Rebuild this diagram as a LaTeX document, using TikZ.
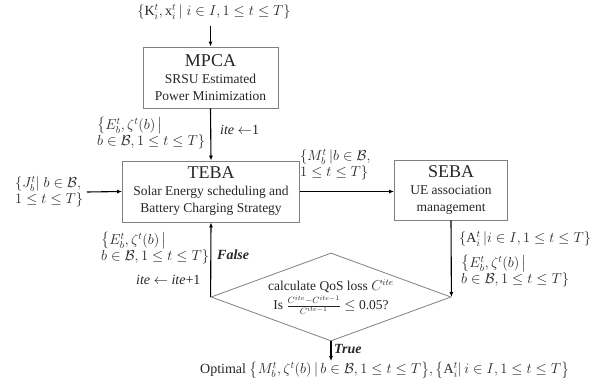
\documentclass[tikz,border=0pt]{standalone}
\usepackage{amsmath, amssymb}
\usepackage{fontspec}
\setmainfont{Liberation Serif}
\usepackage{tikz}
\usetikzlibrary{shapes.geometric}
\usetikzlibrary{arrows.meta}
\newcommand{\boxttl}[1]{{\fontsize{18}{20}\selectfont #1}}
\tikzset{blk/.style={draw=black!50,line width=0.8pt,align=center,inner sep=0pt,
           text=black!85,font=\fontsize{13.5}{17}\selectfont},
         dia/.style={diamond,draw=black!50,line width=0.8pt,align=center,inner sep=0pt,
           aspect=2.73,minimum width=240pt,minimum height=88pt,
           text=black!85,font=\fontsize{13.5}{19}\selectfont},
         arr/.style={-{Latex[length=5pt,width=4pt]},line width=1.1pt},
         lab/.style={align=left,inner sep=0pt,text=black!85,font=\fontsize{14}{16}\selectfont},
         flag/.style={inner sep=0pt,text=black!85,font=\fontsize{14}{16}\selectfont\bfseries\itshape}
         }

\begin{document}
\begin{tikzpicture}[x=1pt,y=-1pt]
        \useasboundingbox (0,0) rectangle (593,387);
        \node[lab] (in1) at (214,12) {$\{\mathrm{K}_i^t, \mathrm{x}_i^t\,|\; i \in I, 1 \le t \le T\}$};
        \node[blk, minimum width=135pt, minimum height=61pt] (mpca) at (210.5,77.5)
            {\boxttl{MPCA}\\ SRSU Estimated\\ Power Minimization};
        \node[blk, minimum width=177pt, minimum height=61pt] (teba) at (211,191.5)
            {\boxttl{TEBA}\\ Solar Energy scheduling and\\ Battery Charging Strategy};
        \node[blk, minimum width=113pt, minimum height=60pt] (seba) at (451,190)
            {\boxttl{SEBA}\\ UE association\\ management};
        \node[dia] (dec) at (331,297)
            {calculate QoS loss $C^{ite}$\\ Is $\frac{C^{ite}-C^{ite-1}}{C^{ite-1}}$ $\le$ 0.05?};
        \node[lab, anchor=west] (opt) at (200,370)
            {Optimal $\big\{M_b^t, \zeta^t(b)\,|\, b \in \mathcal{B}, 1 \le t \le T\big\}, \big\{\mathrm{A}_i^t|\, i \in I, 1 \le t \le T\big\}$};

        % labels
        \node[lab, anchor=west] (jin) at (15,192) {$\{J_b^t|\; b \in \mathcal{B},$\\$1 \le t \le T\}$};
        \node[lab, anchor=west] (le1) at (97,133) {$\big\{E_b^t, \zeta^t(b)\,\big|$\\$b \in \mathcal{B}, 1 \le t \le T\}$};
        \node[lab, anchor=west] (ite1) at (220,130) {\textit{ite} $\leftarrow$1};
        \node[lab, anchor=west] (lm) at (300,165) {$\{M_b^t\,|b \in \mathcal{B},$\\$1 \le t \le T\}$};
        \node[lab, anchor=west] (la) at (459,239) {$\{\mathrm{A}_i^t\,| i \in I, 1 \le t \le T\}$};
        \node[lab, anchor=west] (le3) at (461,271) {$\big\{E_b^t, \zeta^t(b)\,\big|$\\$b \in \mathcal{B}, 1 \le t \le T\}$};
        \node[lab, anchor=west] (le2) at (101,248) {$\big\{E_b^t, \zeta^t(b)\,\big|$\\$b \in \mathcal{B}, 1 \le t \le T\}$};
        \node[lab, anchor=west] (ite2) at (136,280) {\textit{ite} $\leftarrow$ \textit{ite}+1};
        \node[flag, anchor=west] (fls) at (217,255) {False};
        \node[flag, anchor=west] (tru) at (334,349) {True};

        \draw[arr] (in1.south -| mpca.north) ++(0,6) -- (mpca.north);
        \draw[arr] (mpca.south) -- (teba.north);
        \draw[arr] (jin.east -| 87,0) -- (teba.west);
        \draw[arr] (teba.east) -- (teba.east -| seba.west);
        \draw[arr] (seba.south) -- (dec.east);
        \draw[arr] (dec.west) -- (teba.south);
        \draw[arr] (dec.south) -- (dec.south |- opt.north);
    \end{tikzpicture}
\end{document}
